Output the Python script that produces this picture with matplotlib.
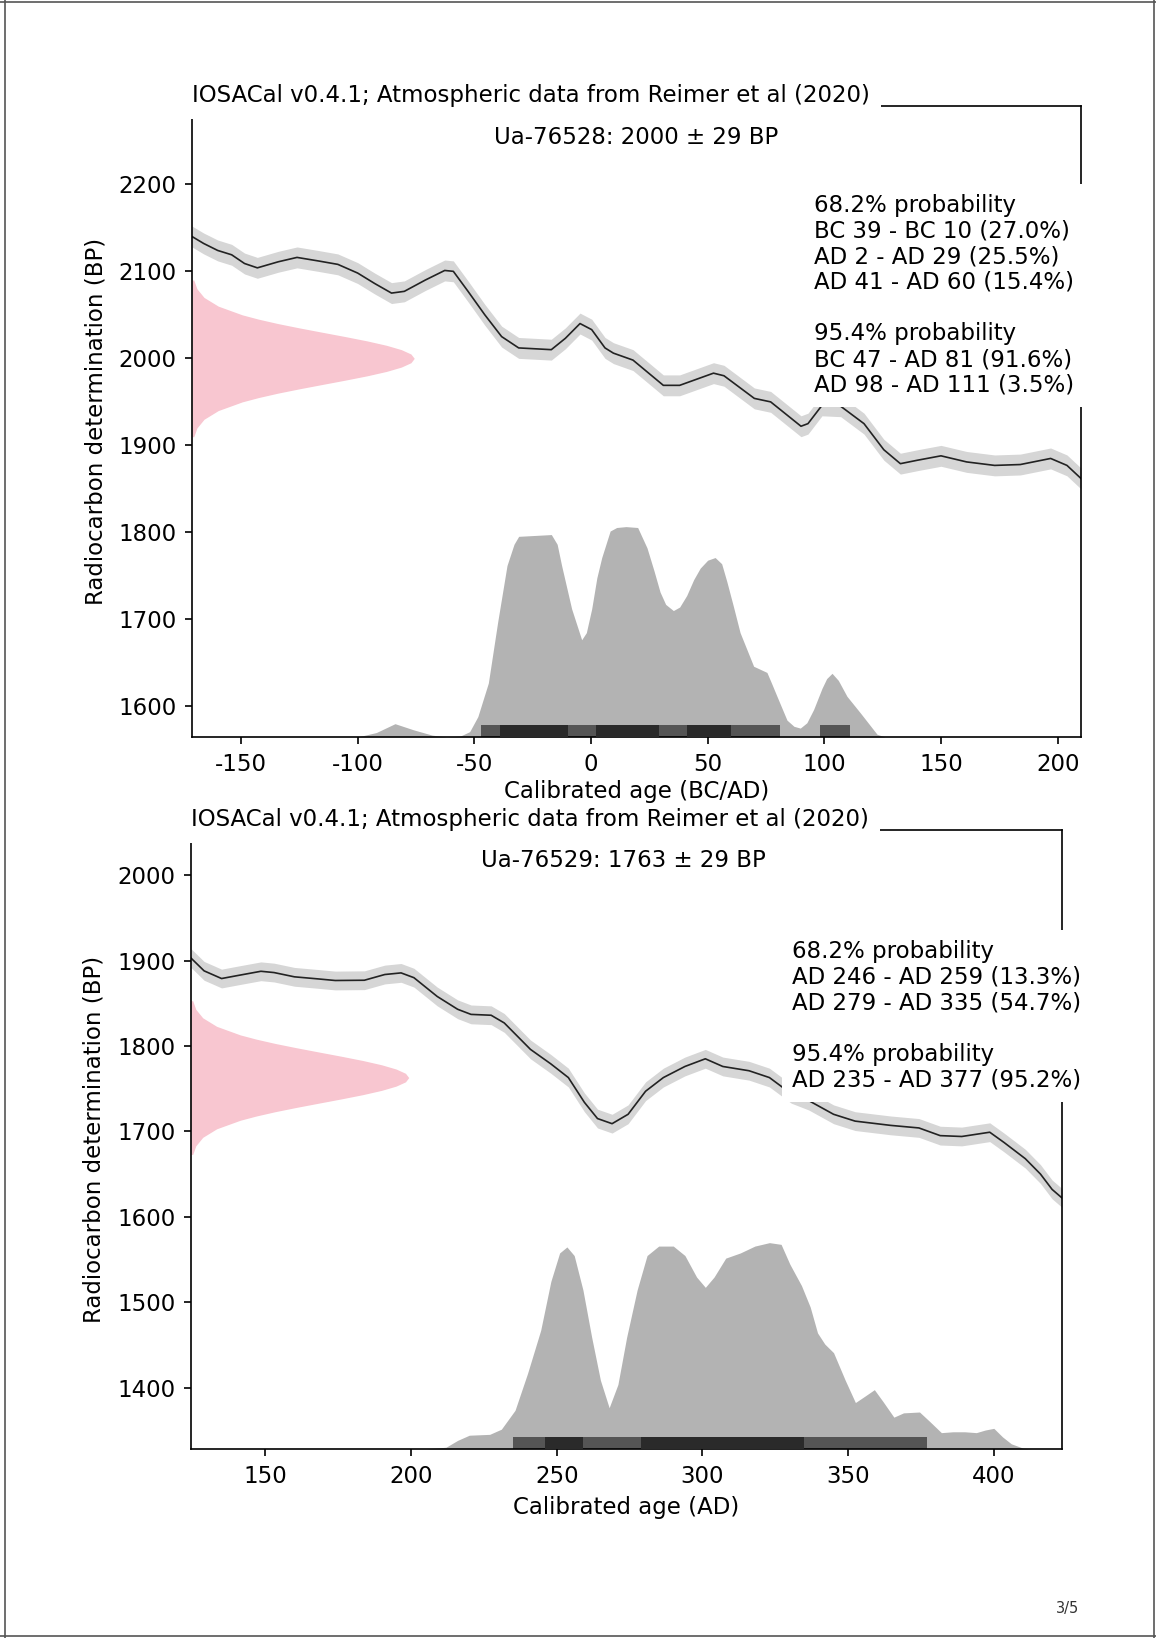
import numpy as np
import matplotlib
matplotlib.use("Agg")
import matplotlib.pyplot as plt
from matplotlib.lines import Line2D

# --- Sample 1: Ua-76528 ---
s1_label = "Ua-76528: 2000 ± 29 BP"
s1_mean, s1_sd = 2000, 29
s1_xlim = (-171, 210)
s1_ylim = (1565, 2290)
s1_curve_x = [-171, -166, -160, -154, -148.5, -143, -134, -126, -117, -108.5, -100, -92.7,
              -85.5, -80, -71, -62.7, -59, -52.7, -45.5, -38.3, -31, -17, -11, -4.7, 0.3, 6,
              9.6, 18, 31, 38, 52.5, 57, 70, 77, 90, 93, 99, 107, 117, 125.5, 132.6, 140,
              150, 161, 173, 184, 197, 204, 210]
s1_curve_y = [2140, 2132, 2124, 2119, 2109, 2104, 2111, 2116, 2112, 2108, 2098, 2086,
              2075, 2077, 2090, 2101, 2100, 2077, 2050, 2025, 2012, 2010, 2023, 2040, 2033, 2012,
              2006, 1998, 1969, 1969, 1983, 1980, 1954, 1950, 1922, 1925, 1946, 1945, 1925, 1895,
              1879, 1883, 1888, 1881, 1877, 1878, 1885, 1877, 1862]
s1_curve_err = 12
s1_cal_x = [-100, -92, -84, -76, -68, -62, -56, -52, -48.5, -44, -40, -36, -33, -31, -24, -17,
            -14.5, -12.6, -8.3, -4, -2, 0.3, 2.5, 4.6, 8.2, 11, 15, 20, 24, 27, 29.6, 32, 35.3,
            38, 41, 44, 46.8, 50, 53.2, 56, 58.2, 61, 63.9, 69.7, 75.4, 77.5, 79.7, 84, 87,
            89.7, 92.5, 95.4, 99, 101, 103.3, 106, 109.7, 115.5, 122.6, 126]
s1_cal_p = [0, 5, 15, 8, 2, 0, 1, 6, 23, 61, 130, 194, 218, 227, 228, 229,
            218, 194, 145, 110, 118, 145, 180, 203, 233, 237, 238, 237, 214, 188, 164, 150, 143,
            147, 160, 178, 191, 200, 203, 196, 176, 148, 118, 80, 73, 60, 46, 19, 12,
            10, 16, 31, 55, 66, 72, 64, 46, 27, 3, 0]
s1_r68 = [(-39, -10), (2, 29), (41, 60)]
s1_r95 = [(-47, 81), (98, 111)]
s1_text = ("68.2% probability\nBC 39 - BC 10 (27.0%)\nAD 2 - AD 29 (25.5%)\n"
           "AD 41 - AD 60 (15.4%)\n\n95.4% probability\nBC 47 - AD 81 (91.6%)\n"
           "AD 98 - AD 111 (3.5%)")
s1_xlabel = "Calibrated age (BC/AD)"
s1_xticks = [-150, -100, -50, 0, 50, 100, 150, 200]
s1_yticks = [1600, 1700, 1800, 1900, 2000, 2100, 2200]

# --- Sample 2: Ua-76529 ---
s2_label = "Ua-76529: 1763 ± 29 BP"
s2_mean, s2_sd = 1763, 29
s2_xlim = (124.5, 423.4)
s2_ylim = (1328, 2053)
s2_curve_x = [124.5, 129, 135, 140.5, 148.5, 153, 160, 168, 174, 184, 191, 196.6, 201, 209,
              216, 220.6, 227.5, 232, 241, 248, 254, 259.5, 264, 269, 274.5, 280.5, 286.6,
              294, 301, 307, 316, 323, 330.5, 336.5, 345, 352.4, 364.6, 374.3, 381.6, 389,
              398.6, 403.5, 410.8, 416, 420, 423.4]
s2_curve_y = [1903, 1888, 1879, 1882.5, 1887.5, 1886, 1881, 1878.6, 1876.7, 1877, 1883.7,
              1885.6, 1880, 1858, 1843, 1837, 1836, 1827, 1796, 1779, 1763, 1734, 1715, 1709,
              1720, 1747, 1763, 1776, 1785, 1776, 1771, 1763, 1744, 1736, 1720, 1712, 1707,
              1704, 1695, 1694, 1699, 1687, 1668, 1650, 1632, 1622]
s2_curve_err = 11
s2_cal_x = [205, 212, 216, 220, 227, 231, 235.7, 240, 244.5, 248, 251, 253.5, 256, 259, 262,
            265, 268, 271, 274, 277.6, 281, 285, 290, 294, 298, 301, 304, 308, 313, 318, 323,
            327, 330, 334, 337, 339.5, 342, 345, 349, 352.5, 356, 359, 362, 365.7, 369, 374.5,
            378, 382, 386, 390, 394, 397, 400, 403, 406, 410, 413]
s2_cal_p = [0, 2, 10, 16, 17, 23, 45, 88, 138, 195, 228, 235, 225, 185, 130,
            80, 48, 75, 130, 185, 225, 236, 236, 225, 200, 188, 200, 222, 228, 236, 240,
            238, 215, 190, 165, 135, 122, 112, 80, 54, 62, 69, 55, 37, 42, 43,
            32, 19, 20, 20, 19, 22, 24, 14, 6, 1, 0]
s2_r68 = [(246, 259), (279, 335)]
s2_r95 = [(235, 377)]
s2_text = ("68.2% probability\nAD 246 - AD 259 (13.3%)\nAD 279 - AD 335 (54.7%)\n\n"
           "95.4% probability\nAD 235 - AD 377 (95.2%)")
s2_xlabel = "Calibrated age (AD)"
s2_xticks = [150, 200, 250, 300, 350, 400]
s2_yticks = [1400, 1500, 1600, 1700, 1800, 1900, 2000]

# --- Shape of the radiocarbon determination (offset in BP, relative width) ---
det_offset = [-90, -80, -70, -60, -50, -45, -40, -35, -30, -25, -20, -15, -10, -5, 0,
              5, 10, 15, 20, 25, 30, 35, 40, 45, 50, 60, 70, 80, 90]
det_width = [0.008, 0.022, 0.054, 0.118, 0.226, 0.300, 0.386, 0.483, 0.586, 0.690, 0.789,
             0.875, 0.942, 0.985, 1.0,
             0.985, 0.942, 0.875, 0.789, 0.690, 0.586, 0.483, 0.386, 0.300, 0.226, 0.118,
             0.054, 0.022, 0.008]

title = "IOSACal v0.4.1; Atmospheric data from Reimer et al (2020)"
ylabel = "Radiocarbon determination (BP)"

plt.rcParams.update({
    "font.size": 16.5,
    "axes.linewidth": 1.2,
    "xtick.major.size": 5.25, "ytick.major.size": 5.25,
    "xtick.major.width": 1.2, "ytick.major.width": 1.2,
    "xtick.major.pad": 6, "ytick.major.pad": 6,
    "axes.unicode_minus": False,
})


def draw_panel(ax, label, mean, xlim, ylim, cx, cy, cerr, calx, calp, r68, r95, text,
               text_x, xlabel, xlabelpad, xticks, yticks):
    x0, x1 = xlim
    y0, y1 = ylim
    cx = np.array(cx)
    cy = np.array(cy)

    # calibration curve
    ax.fill_between(cx, cy - cerr, cy + cerr, color="#d6d6d6", lw=0, zorder=1)
    ax.plot(cx, cy, color="#222222", lw=1.2, zorder=2)

    # radiocarbon determination, drawn sideways from the left edge
    det_y = mean + np.array(det_offset)
    ax.fill_betweenx(det_y, x0, x0 + np.array(det_width) * 0.25 * (x1 - x0),
                     color="#f8c6d0", lw=0, zorder=1)

    # calibrated distribution
    calp = np.array(calp, dtype=float)
    ax.fill_between(calx, y0, y0 + calp / calp.max() * (y1 - y0) / 3,
                    color="#b3b3b3", lw=0, zorder=1)

    # ranges
    bar_h = (y1 - y0) * 0.0186
    for a, b in r95:
        ax.fill_between([a, b], y0, y0 + bar_h, color="#555555", lw=0, zorder=2)
    for a, b in r68:
        ax.fill_between([a, b], y0, y0 + bar_h, color="#2a2a2a", lw=0, zorder=3)

    ax.set_xlim(x0, x1)
    ax.set_ylim(y0, y1)
    ax.set_xticks(xticks)
    ax.set_yticks(yticks)
    ax.set_xlabel(xlabel, labelpad=xlabelpad)
    ax.set_ylabel(ylabel, labelpad=8)

    ax.annotate(title, xy=(0, 1), xycoords="axes fraction", xytext=(0, 10),
                textcoords="offset pixels", ha="left", va="center", zorder=6,
                bbox=dict(boxstyle="square,pad=0.5", fc="white", ec="none"))
    ax.text(0.66, 0.95, label, transform=ax.transAxes, ha="right", va="center",
            zorder=6, bbox=dict(boxstyle="square,pad=0.3", fc="white", ec="none"))
    ax.text(text_x, 0.70, text, transform=ax.transAxes, ha="left", va="center",
            linespacing=1.15, zorder=6,
            bbox=dict(boxstyle="square,pad=0.45", fc="white", ec="none"))


fig = plt.figure(figsize=(11.56, 16.38), dpi=100)

ax1 = fig.add_axes([0.1661, 0.5501, 0.769, 0.3852])
ax1.set_zorder(2)  # keep its x label above the lower panel's title box
draw_panel(ax1, s1_label, s1_mean, s1_xlim, s1_ylim, s1_curve_x, s1_curve_y, s1_curve_err,
           s1_cal_x, s1_cal_p, s1_r68, s1_r95, s1_text, 0.70, s1_xlabel, 3,
           s1_xticks, s1_yticks)

ax2 = fig.add_axes([0.1652, 0.1154, 0.7535, 0.3779])
draw_panel(ax2, s2_label, s2_mean, s2_xlim, s2_ylim, s2_curve_x, s2_curve_y, s2_curve_err,
           s2_cal_x, s2_cal_p, s2_r68, s2_r95, s2_text, 0.69, s2_xlabel, 6,
           s2_xticks, s2_yticks)

# page frame and page number
W, H = 1156, 1638
for xs, ys in [([4.5, 4.5], [0, H]), ([0, W], [H - 1.5, H - 1.5]),
               ([W - 2, W - 2], [0, H]), ([0, W], [2, 2])]:
    fig.add_artist(Line2D(np.array(xs) / W, np.array(ys) / H, color="#555555", lw=1.2))
fig.text(1068 / W, 1 - 1608 / H, "3/5", ha="center", va="center", fontsize=10.5,
         color="#333333")

fig.savefig("out.png", dpi=100)
